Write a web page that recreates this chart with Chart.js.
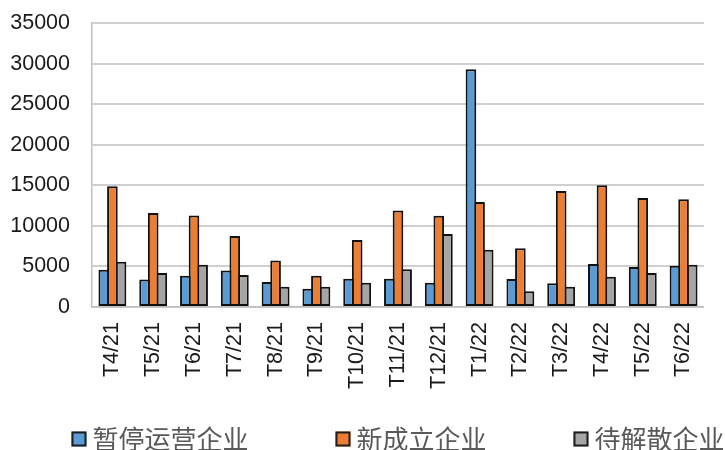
<!DOCTYPE html>
<html>
<head>
<meta charset="utf-8">
<script src="https://cdn.jsdelivr.net/npm/chart.js@4"></script>
<style>
  html, body { margin: 0; padding: 0; background: #ffffff; overflow: hidden; }
  #wrap { width: 725px; height: 450px; }
</style>
</head>
<body>
<div id="wrap"><canvas id="c" width="725" height="450"></canvas></div>
<script>
// Monthly counts of enterprises by status
const months = ['T4/21', 'T5/21', 'T6/21', 'T7/21', 'T8/21', 'T9/21', 'T10/21', 'T11/21',
                'T12/21', 'T1/22', 'T2/22', 'T3/22', 'T4/22', 'T5/22', 'T6/22'];
const suspended = [4600, 3400, 3850, 4500, 3100, 2250, 3500, 3500, 3000, 29300, 3450, 2950, 5300, 4950, 5100];
const established = [14900, 11600, 11300, 8750, 5750, 3850, 8250, 11900, 11250, 12950, 7250, 14300, 15000, 13450, 13300];
const dissolving = [5600, 4200, 5200, 3950, 2500, 2500, 3000, 4650, 9000, 7050, 1950, 2500, 3750, 4200, 5200];
const seriesNames = ['暂停运营企业', '新成立企业', '待解散企业'];

const tickFont = { family: '"Liberation Sans", Arial, sans-serif', size: 21.5 };

// Legend drawn under the plot, centred on the plotting area
const bottomLegend = {
  id: 'bottomLegend',
  afterDraw(chart) {
    const ctx = chart.ctx;
    const area = chart.chartArea;
    const box = 15, boxGap = 6, itemGap = 87;
    ctx.save();
    ctx.font = '26px "Noto Sans CJK SC", sans-serif';
    const items = chart.data.datasets.map(ds => ({
      label: ds.label,
      color: ds.backgroundColor,
      w: box + boxGap + ctx.measureText(ds.label).width
    }));
    const total = items.reduce((s, it) => s + it.w, 0) + itemGap * (items.length - 1);
    let x = (area.left + area.right) / 2 - total / 2;
    const cy = 439;
    ctx.textBaseline = 'middle';
    ctx.textAlign = 'left';
    items.forEach(it => {
      ctx.fillStyle = it.color;
      ctx.fillRect(x, cy - box / 2, box, box);
      ctx.lineWidth = 2;
      ctx.strokeStyle = '#1e1e1e';
      ctx.strokeRect(x + 1, cy - box / 2 + 1, box - 2, box - 2);
      ctx.fillStyle = '#595959';
      ctx.fillText(it.label, x + box + boxGap, cy);
      x += it.w + itemGap;
    });
    ctx.restore();
  }
};

const barStyle = {
  borderColor: '#111111',
  borderWidth: 2,
  borderSkipped: false,
  barPercentage: 1.23,
  categoryPercentage: 0.635
};

new Chart(document.getElementById('c'), {
  type: 'bar',
  data: {
    labels: months,
    datasets: [
      Object.assign({ label: seriesNames[0], data: suspended, backgroundColor: '#5b9bd5' }, barStyle),
      Object.assign({ label: seriesNames[1], data: established, backgroundColor: '#ed7d31' }, barStyle),
      Object.assign({ label: seriesNames[2], data: dissolving, backgroundColor: '#a5a5a5' }, barStyle)
    ]
  },
  options: {
    responsive: false,
    animation: false,
    devicePixelRatio: 1,
    layout: { padding: { top: 0, left: 10, right: 19, bottom: 46 } },
    plugins: {
      legend: { display: false },
      tooltip: { enabled: false }
    },
    scales: {
      x: {
        grid: { display: false, drawTicks: false },
        border: { display: true, color: '#bfbfbf', width: 1.5 },
        ticks: {
          font: tickFont,
          color: '#1a1a1a',
          minRotation: 90,
          maxRotation: 90,
          autoSkip: false,
          padding: 15
        }
      },
      y: {
        min: 0,
        max: 35000,
        afterFit: axis => { axis.width = 82; },
        grid: { color: '#cfcfcf', lineWidth: 2, drawTicks: false },
        border: { display: true, color: '#bfbfbf', width: 1.5 },
        ticks: {
          stepSize: 5000,
          font: Object.assign({ lineHeight: 0.1 }, tickFont),
          color: '#1a1a1a',
          padding: 22,
          callback: v => String(v)
        }
      }
    }
  },
  plugins: [bottomLegend]
});
</script>
</body>
</html>
